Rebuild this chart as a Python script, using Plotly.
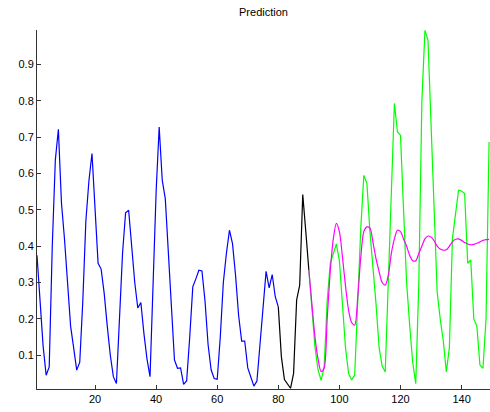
import plotly.graph_objects as go

# Observed series (blue), x = 1..80
blue_x = list(range(1, 81))
blue_y = [0.375, 0.24, 0.125, 0.045, 0.068, 0.40, 0.637, 0.722, 0.52, 0.42,
          0.30, 0.18, 0.12, 0.059, 0.081, 0.25, 0.47, 0.58, 0.655, 0.50,
          0.353, 0.337, 0.27, 0.18, 0.10, 0.041, 0.022, 0.20, 0.38, 0.492,
          0.499, 0.40, 0.30, 0.23, 0.245, 0.16, 0.09, 0.041, 0.30, 0.55,
          0.728, 0.582, 0.531, 0.38, 0.22, 0.087, 0.064, 0.065, 0.02, 0.03,
          0.15, 0.288, 0.31, 0.334, 0.332, 0.25, 0.13, 0.06, 0.036, 0.034,
          0.15, 0.30, 0.38, 0.444, 0.407, 0.32, 0.21, 0.139, 0.139, 0.065,
          0.04, 0.015, 0.029, 0.13, 0.24, 0.331, 0.285, 0.322, 0.261, 0.233]

# Transition segment (black), x = 80..90
black_x = list(range(80, 91))
black_y = [0.233, 0.096, 0.033, 0.02, 0.009, 0.05, 0.252, 0.293, 0.542, 0.44, 0.334]

# Actual values (green), x = 90..149
green_x = list(range(90, 150))
green_y = [0.334, 0.22, 0.123, 0.06, 0.031, 0.067, 0.25, 0.353, 0.38, 0.406,
           0.36, 0.25, 0.12, 0.05, 0.032, 0.045, 0.25, 0.45, 0.595, 0.573,
           0.44, 0.35, 0.24, 0.12, 0.07, 0.054, 0.30, 0.58, 0.793, 0.715,
           0.705, 0.50, 0.30, 0.183, 0.08, 0.022, 0.30, 0.80, 0.994, 0.967,
           0.75, 0.50, 0.274, 0.20, 0.14, 0.054, 0.12, 0.421, 0.494, 0.554,
           0.552, 0.545, 0.353, 0.362, 0.20, 0.18, 0.073, 0.064, 0.20, 0.687]

# Prediction (magenta), x = 90..149
pred_x = list(range(90, 150))
pred_y = [0.334, 0.24, 0.15, 0.09, 0.055, 0.065, 0.20, 0.33, 0.42, 0.463,
          0.44, 0.37, 0.29, 0.224, 0.19, 0.183, 0.26, 0.37, 0.44, 0.453,
          0.45, 0.41, 0.365, 0.33, 0.30, 0.293, 0.32, 0.38, 0.42, 0.444,
          0.44, 0.42, 0.40, 0.375, 0.36, 0.36, 0.38, 0.40, 0.42, 0.428,
          0.425, 0.415, 0.40, 0.392, 0.389, 0.39, 0.40, 0.412, 0.419, 0.42,
          0.416, 0.41, 0.406, 0.404, 0.405, 0.408, 0.412, 0.416, 0.418, 0.419]

x_ticks = [20, 40, 60, 80, 100, 120, 140]
y_ticks = [0.1, 0.2, 0.3, 0.4, 0.5, 0.6, 0.7, 0.8, 0.9]

fig = go.Figure()
fig.add_trace(go.Scatter(x=blue_x, y=blue_y, mode="lines",
                         line=dict(color="#0000FF", width=1.2)))
fig.add_trace(go.Scatter(x=black_x, y=black_y, mode="lines",
                         line=dict(color="#000000", width=1.2)))
fig.add_trace(go.Scatter(x=green_x, y=green_y, mode="lines",
                         line=dict(color="#00FF00", width=1.2)))
fig.add_trace(go.Scatter(x=pred_x, y=pred_y, mode="lines",
                         line=dict(color="#FF00FF", width=1.2, shape="spline", smoothing=0.8)))

font = dict(family="Liberation Sans, Arial, sans-serif", size=11, color="#000000")
fig.update_layout(
    width=490, height=412,
    margin=dict(l=37, r=0, t=30, b=23),
    paper_bgcolor="white", plot_bgcolor="white",
    showlegend=False,
    font=font,
    title=dict(text="Prediction", x=(37 + 490) / 2 / 490, xanchor="center",
               y=1 - 12 / 412, yanchor="middle", font=dict(size=11, color="#000000")),
    xaxis=dict(range=[1, 149.3], tickvals=x_ticks, ticks="inside", ticklen=4,
               tickcolor="#333333", showline=True, linecolor="#333333", linewidth=1,
               showgrid=False, zeroline=False, mirror=False),
    yaxis=dict(range=[0.007, 0.995], tickvals=y_ticks, ticks="inside", ticklen=4,
               tickcolor="#333333", showline=True, linecolor="#333333", linewidth=1,
               showgrid=False, zeroline=False, mirror=False, tickformat=".1f"),
)

fig.write_html("out.html")
